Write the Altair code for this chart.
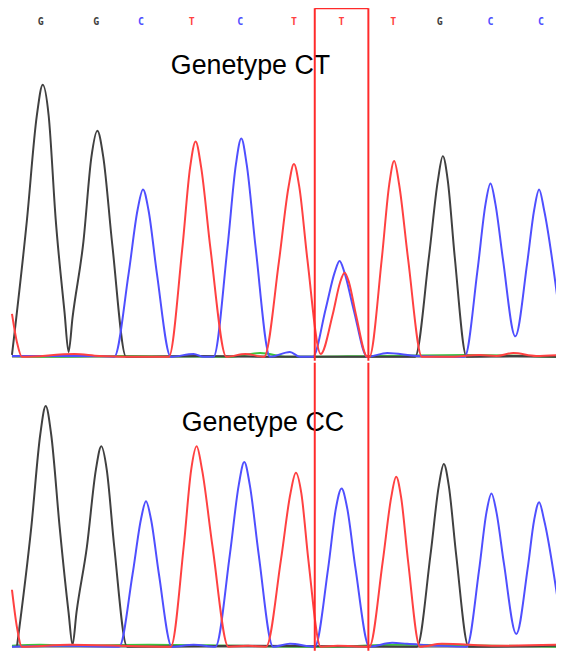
import altair as alt
import pandas as pd

# ---- base calls (top row) ----
call_x = [41, 97, 142, 193, 242, 296, 344, 396, 443, 494, 545]
call_base = ["G", "G", "C", "T", "C", "T", "T", "T", "G", "C", "C"]

# ---- Genotype CT panel traces (scan position, intensity) ----
ct_G_x = [12, 27, 37, 43, 49, 56, 65, 69, 73, 84, 92, 98, 104, 113, 127, 200, 300,
          418, 432, 441, 446, 451, 458, 470, 520, 564]
ct_G_y = [2, 139, 246, 278, 246, 141, 45, 5, 40, 118, 204, 231, 204, 115, 0, 1, 0,
          0, 102, 180, 205, 180, 102, 0, 1, 0]
ct_C_x = [12, 60, 100, 115, 129.5, 138.5, 144, 149.5, 158, 172, 195, 205, 215, 229, 237.5, 243,
          248.5, 257.5, 272, 292, 302, 315, 328, 337, 342, 347, 356, 370, 390, 420, 468, 481, 489,
          494, 499, 506.5, 519, 531, 538, 543, 548, 564]
ct_C_y = [1, 1, 1, 0, 85, 150, 171, 150, 85, 0, 3, 0, 0, 111, 196, 223,
          196, 111, 0, 5, 0, 0, 49, 86, 98, 86, 49, 0, 4, 1, 0, 89, 156,
          177, 156, 100, 21, 96, 150, 171, 150, 40]
ct_T_x = [12, 17, 22, 75, 100, 150, 170, 183.5, 191.5, 197, 202.5, 212, 228, 247, 266, 281, 290.5,
          296, 301.5, 309.5, 323, 335, 342.5, 347, 351.5, 358.5, 370, 372, 384.5, 392, 397, 402,
          411, 425, 450, 483, 500, 517, 540, 564]
ct_T_y = [44, 15, 0, 3, 1, 0, 0, 110, 194, 220, 194, 110, 0, 3, 0, 98, 173,
          197, 173, 100, 3, 43, 76, 86, 76, 43, 0, 0, 100, 176, 200, 176,
          100, 0, 0, 2, 1, 4, 1, 2]
ct_N_x = [12, 60, 120, 230, 262, 290, 380, 470, 564]
ct_N_y = [1, 0, 1, 0, 4, 0, 1, 2, 0]

# ---- Genotype CC panel traces ----
cc_G_x = [17, 31.5, 40.5, 46, 51.5, 60, 69, 73, 77, 87.5, 96.5, 102, 107.5, 115, 128, 250,
          420, 433.5, 442, 447, 452, 459.5, 472, 564]
cc_G_y = [0, 122, 216, 245, 216, 122, 35, 2, 35, 102, 180, 204, 180, 102, 0, 1,
          0, 93, 164, 186, 164, 93, 0, 1]
cc_C_x = [12, 60, 120, 133.5, 142, 147, 152, 160, 173, 195, 217, 231.5, 240.5, 246, 251.5, 260.5,
          275, 292, 317, 330.5, 338.5, 344, 349.5, 358, 372, 395, 410, 470, 482.5, 490, 495, 500,
          507.5, 520, 531.5, 538, 543, 548, 564]
cc_C_y = [0, 1, 0, 74, 130, 148, 130, 74, 0, 2, 0, 94, 165, 188, 165, 94,
          0, 3, 0, 80, 142, 161, 142, 80, 0, 4, 3, 0, 78, 137, 156, 137,
          85, 13, 80, 129, 147, 129, 32]
cc_T_x = [12, 17, 22, 70, 172, 185, 192.5, 198, 203.5, 214, 230, 250, 268, 283, 292.5, 298, 303.5,
          310.5, 323, 340, 372, 385.5, 394, 399, 404, 411, 423, 445, 500, 564]
cc_T_y = [58, 20, 0, 2, 0, 102, 180, 204, 180, 102, 0, 1, 0, 89, 156, 177, 156,
          89, 0, 1, 0, 87, 152, 173, 152, 87, 0, 3, 1, 2]
cc_N_x = [12, 40, 70, 150, 240, 330, 400, 564]
cc_N_y = [1, 2, 1, 2, 1, 0, 2, 0]

# highlighted position (red box)
box_left, box_right = 317, 371
box_top = 356

labels = ["Genetype CT", "Genetype CC"]

W = 564
H_TOP, H_BOT = 361, 290


def traces(spec):
    rows = []
    for base, xs, ys in spec:
        for x, y in zip(xs, ys):
            rows.append({"scan": x, "signal": y, "base": base})
    return pd.DataFrame(rows)


color_scale = alt.Scale(domain=["N", "G", "C", "T"],
                        range=["#3cc43c", "#404040", "#4f4fff", "#ff4141"])
x_scale = alt.Scale(domain=[0, 564], nice=False, zero=False)


def panel(df, ymax, height, label, label_x, label_y, top=False):
    y_scale = alt.Scale(domain=[-4, ymax], nice=False, zero=False)
    X = alt.X("scan:Q", scale=x_scale, axis=None)
    Y = alt.Y("signal:Q", scale=y_scale, axis=None)

    base_df = pd.DataFrame({"x1": [12], "x2": [564], "y": [0]})
    baseline = alt.Chart(base_df).mark_rule(color="#8a8a8a", strokeWidth=2).encode(
        x=alt.X("x1:Q", scale=x_scale, axis=None), x2="x2:Q",
        y=alt.Y("y:Q", scale=y_scale, axis=None))

    lines = alt.Chart(df).mark_line(interpolate="monotone", strokeWidth=2).encode(
        x=X, y=Y,
        color=alt.Color("base:N", scale=color_scale, legend=None),
        order=alt.Order("scan:Q"))

    lab_df = pd.DataFrame({"x": [label_x], "y": [label_y], "t": [label]})
    lab = alt.Chart(lab_df).mark_text(font="Liberation Sans", fontSize=27, align="left",
                                      baseline="alphabetic", color="#000000").encode(
        x=alt.X("x:Q", scale=x_scale, axis=None),
        y=alt.Y("y:Q", scale=y_scale, axis=None), text="t:N")

    layers = [baseline, lines, lab]

    if top:
        vr_df = pd.DataFrame({"x": [box_left, box_right], "y": [box_top, box_top], "y2": [-4, -4]})
        vr = alt.Chart(vr_df).mark_rule(color="#ff2a2a", strokeWidth=2).encode(
            x=alt.X("x:Q", scale=x_scale, axis=None),
            y=alt.Y("y:Q", scale=y_scale, axis=None), y2="y2:Q")
        hr_df = pd.DataFrame({"x": [box_left], "x2": [box_right], "y": [box_top]})
        hr = alt.Chart(hr_df).mark_rule(color="#ff2a2a", strokeWidth=2).encode(
            x=alt.X("x:Q", scale=x_scale, axis=None), x2="x2:Q",
            y=alt.Y("y:Q", scale=y_scale, axis=None))
        calls = pd.DataFrame({"x": call_x, "base": call_base, "y": [339] * len(call_x)})
        ct = alt.Chart(calls).mark_text(font="DejaVu Sans Mono", fontSize=10, fontWeight="bold",
                                        baseline="alphabetic").encode(
            x=alt.X("x:Q", scale=x_scale, axis=None),
            y=alt.Y("y:Q", scale=y_scale, axis=None),
            text="base:N",
            color=alt.Color("base:N", scale=color_scale, legend=None))
        layers += [vr, hr, ct]
    else:
        vr_df = pd.DataFrame({"x": [box_left, box_right]})
        vr = alt.Chart(vr_df).mark_rule(color="#ff2a2a", strokeWidth=2).encode(
            x=alt.X("x:Q", scale=x_scale, axis=None))
        layers += [vr]

    return alt.layer(*layers).properties(width=W, height=height)


top_df = traces([("N", ct_N_x, ct_N_y), ("G", ct_G_x, ct_G_y),
                 ("C", ct_C_x, ct_C_y), ("T", ct_T_x, ct_T_y)])
bot_df = traces([("N", cc_N_x, cc_N_y), ("G", cc_G_x, cc_G_y),
                 ("C", cc_C_x, cc_C_y), ("T", cc_T_x, cc_T_y)])

top = panel(top_df, 362, H_TOP, labels[0], 172, 289, top=True)
bot = panel(bot_df, 289, H_BOT, labels[1], 183, 220)

chart = alt.vconcat(top, bot, spacing=0).properties(
    padding={"left": -8, "top": -8, "right": -8, "bottom": 0}, background="white"
).configure_view(stroke=None).resolve_scale(color="shared")

chart.save("out.html", embed_options={"renderer": "svg", "actions": False})
